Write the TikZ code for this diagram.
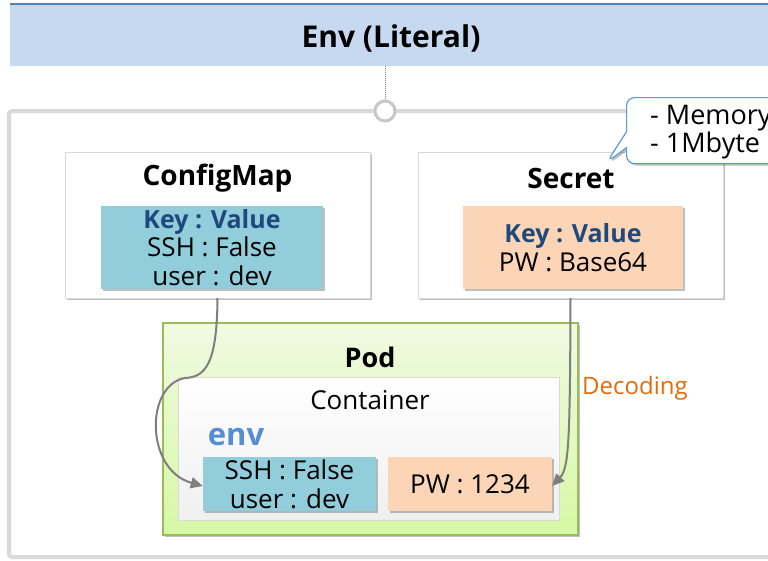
\documentclass[tikz,border=0pt]{standalone}
\usepackage{fontspec}
\setmainfont{Open Sans}
\usetikzlibrary{shadows,shapes.callouts,arrows.meta}
\definecolor{titlefill}{HTML}{C6D9F0}
\definecolor{titleline}{HTML}{4F81BD}
\definecolor{cmfill}{HTML}{92CDDC}
\definecolor{peach}{HTML}{FBD5B5}
\definecolor{darkblue}{HTML}{1F497D}
\definecolor{envblue}{HTML}{558ED5}
\definecolor{podline}{HTML}{9BBB59}
\definecolor{podtop}{HTML}{F0FAE2}
\definecolor{podbot}{HTML}{D6F8A4}
\definecolor{frame}{HTML}{D9D9D9}
\definecolor{orange}{HTML}{E46C0A}
\definecolor{callline}{HTML}{5B9BD5}
\definecolor{arrowgray}{HTML}{7F7F7F}
\tikzset{
  fs/.style={font=\fontsize{#1}{30}\selectfont},
  bfs/.style={font=\bfseries\fontsize{#1}{30}\selectfont},
  shad/.style={drop shadow={shadow xshift=2pt,shadow yshift=-2pt,opacity=.25,fill=black}},
  objbox/.style={draw=frame,fill=white,minimum width=305pt,minimum height=146pt,shad},
  kvbox/.style={fill=#1,minimum height=83pt,align=center,inner sep=0pt,shad,fs=26,
    execute at begin node={\setlength{\baselineskip}{28.5pt}}},
  envbox/.style={fill=#1,minimum height=54pt,align=center,inner sep=0pt,shad,fs=26,
    execute at begin node={\setlength{\baselineskip}{29pt}}},
  conn/.style={draw=arrowgray,line width=2pt,-{Triangle[length=12pt,width=11pt]}}
}
\newcommand{\keyval}{\textcolor{darkblue}{\bfseries\fontsize{25}{28}\selectfont Key : Value}}
\begin{document}
\begin{tikzpicture}[x=1pt,y=-1pt]
\clip (0,0) rectangle (768,560);
\fill[white] (0,0) rectangle (768,560);
% outer frame
\draw[frame,line width=4pt,rounded corners=3pt] (9,111) rectangle (800,557);
% title band
\node[fill=titlefill,minimum width=760pt,minimum height=62pt,inner sep=0pt,anchor=north west] (title) at (10,4) {};
\draw[titleline,line width=2.5pt] (title.north west) -- (title.north east);
\node[bfs=30] (titletext) at (391,38) {Env (Literal)};
\node[circle,draw=frame!80!gray,line width=3pt,fill=white,minimum size=20pt,inner sep=0pt] (knob) at (385,111) {};
\draw[gray,line width=0.5pt,dash pattern=on 1pt off 1pt] (title.south -| knob) -- (knob.north);
% ConfigMap
\node[objbox] (cm) at (217.5,225) {};
\node[bfs=28] (cmtitle) at (217.5,178) {ConfigMap};
\node[kvbox=cmfill,minimum width=222pt] (cmkv) at (212,247.5)
  {\keyval\\SSH : False\\user : dev};
% Secret
\node[objbox] (sec) at (570.5,225) {};
\node[bfs=28] (sectitle) at (571,178) {Secret};
\node[kvbox=peach,minimum width=220pt] (seckv) at (573,247.5)
  {\keyval\\PW : Base64};
% callout
\node[rectangle callout,rounded corners=8pt,draw=callline,line width=1.2pt,fill=white,
  minimum height=66pt,minimum width=204pt,
  callout absolute pointer={(607,162)},callout pointer width=16pt,
  anchor=north west,shad] (note) at (626,97) {};
\node[fs=27,anchor=west,align=left,inner sep=0pt,
  execute at begin node={\setlength{\baselineskip}{28pt}}] (notetext) at (650,132)
  {- Memory\\- 1Mbyte};
% Pod
\node[draw=podline,line width=1.5pt,top color=podtop,bottom color=podbot,
  minimum width=415pt,minimum height=212pt,shad] (pod) at (370.5,429) {};
\node[bfs=27] (podtitle) at (370,357) {Pod};
\node[draw=frame,line width=1pt,top color=white,bottom color=black!6,
  minimum width=381pt,minimum height=143pt] (cont) at (368.5,448.5) {};
\node[fs=26] (conttitle) at (370,400) {Container};
\node[bfs=31,text=envblue] (envlabel) at (236,437) {env};
\node[envbox=cmfill,minimum width=173pt] (envcm) at (289.5,484) {SSH : False\\user : dev};
\node[envbox=peach,minimum width=164pt] (envpw) at (470,484) {PW : 1234};
\node[fs=24,text=orange] (dec) at (635,388) {Decoding};
% connectors
\coordinate (tipA) at ([yshift=-2pt]envcm.west);
\coordinate (tipB) at ([yshift=-2pt]envpw.east);
\draw[conn] (cm.south) .. controls (217,365) and (205,377) .. (185,378)
  .. controls (145,385) and (145,470) .. (tipA);
\draw[conn] (sec.south) .. controls (570,440) and (569,468) .. (tipB);
\end{tikzpicture}
\end{document}
